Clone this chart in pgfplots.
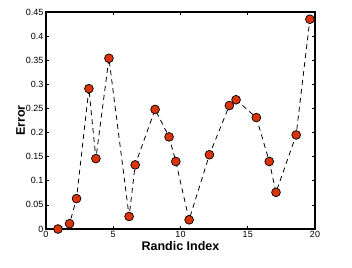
\documentclass[border=0pt]{standalone}
\usepackage{pgfplots}
\pgfplotsset{compat=1.18}
\usepackage{fontspec}
\setmainfont{Liberation Sans}
\definecolor{mk}{RGB}{218,52,12}
\begin{document}
\begin{tikzpicture}
\begin{axis}[
  at={(0,0)}, anchor=south west,
  scale only axis, width=269pt, height=217pt,
  xmin=0, xmax=20, ymin=0, ymax=0.45,
  xtick={0,5,10,15,20}, xticklabels={0,5,10,15,20},
  ytick={0,0.05,0.1,0.15,0.2,0.25,0.3,0.35,0.4,0.45},
  yticklabels={0,0.05,0.1,0.15,0.2,0.25,0.3,0.35,0.4,0.45},
  scaled y ticks=false,
  tick align=inside, major tick length=3pt,
  tick style={black, line width=0.6pt},
  axis line style={line width=1.1pt},
  ticklabel style={font=\fontsize{9}{10}\selectfont},
  xticklabel style={yshift=1pt},
  yticklabel style={xshift=1pt},
  xlabel={\textbf{Randic Index}}, ylabel={\textbf{Error}},
  label style={font=\fontsize{12.5}{14}\selectfont},
  xlabel style={yshift=3pt},
  ylabel style={yshift=-6pt},
  clip=false,
]
\addplot[black, line width=0.8pt, dash pattern=on 5pt off 4pt,
  mark=*, mark size=4.4pt,
  mark options={solid, fill=mk, draw=black, line width=0.7pt}]
coordinates {
(0.89,0.000) (1.75,0.011) (2.27,0.063) (3.19,0.291) (3.71,0.146)
(4.68,0.354) (6.18,0.026) (6.63,0.133) (8.11,0.248) (9.15,0.191)
(9.65,0.140) (10.64,0.019) (12.15,0.154) (13.63,0.256) (14.13,0.268)
(15.64,0.231) (16.60,0.140) (17.10,0.076) (18.60,0.195) (19.62,0.435)
};
\end{axis}
\pgfresetboundingbox
\path (-46pt,-38pt) rectangle (306pt,229pt);
\end{tikzpicture}
\end{document}
